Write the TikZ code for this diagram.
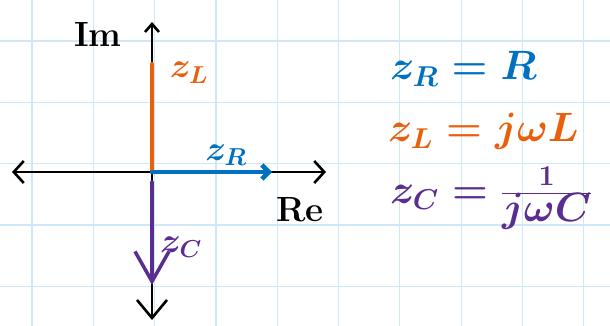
\documentclass[tikz,border=0pt]{standalone}
\usepackage{fix-cm}
\usetikzlibrary{arrows.meta}
\definecolor{gridc}{HTML}{CFE8F7}
\definecolor{zblue}{HTML}{0070C0}
\definecolor{zorange}{HTML}{E8600C}
\definecolor{zpurple}{HTML}{5A2D91}
\begin{document}
\begin{tikzpicture}[x=1pt,y=-1pt,
  gridline/.style={gridc, line width=1.2pt},
  axis/.style={black, line width=2.6pt, line cap=round},
  vec/.style={line width=4.5pt, line cap=round},
  lbl/.style={inner sep=0pt, anchor=base, font=\fontsize{35}{38}\selectfont\bfseries\boldmath},
  eq/.style={inner sep=0pt, anchor=base west, font=\fontsize{41}{45}\selectfont\boldmath}]
\useasboundingbox (0,0) rectangle (610,326);
\fill[white] (0,0) rectangle (610,326);
\foreach \i in {0,...,9} \draw[gridline] ({32+61.3*\i},0) -- ({32+61.3*\i},326);
\foreach \j in {0,...,4} \draw[gridline] (0,{41+61.3*\j}) -- (610,{41+61.3*\j});
% axes
\coordinate (O) at (152,172);
\coordinate (W) at (12,172);
\coordinate (E) at (326,172);
\coordinate (N) at (152,22);
\coordinate (S) at (152,320);
\coordinate (ZLtop) at (152,64);
\coordinate (ZRtip) at (272,172);
\coordinate (ZCtop) at (152,182);
\coordinate (ZCtip) at (152,285);
\draw[axis, {Straight Barb[length=10pt 0, width=22pt 0]}-{Straight Barb[length=10pt 0, width=22pt 0]}] (W) -- (E);
\draw[axis, {Straight Barb[length=8pt 0, width=14pt 0]}-{Straight Barb[length=18pt 0, width=30pt 0]}] (N) -- (S);
% vectors
\draw[vec, zorange] (O) -- (ZLtop);
\draw[vec, zblue, -{Straight Barb[length=7pt 0, width=14pt 0]}] (O) -- (ZRtip);
\draw[vec, zpurple, line width=3.5pt, -{Straight Barb[length=30pt 0, width=34pt 0]}] (ZCtop) -- (ZCtip);
% axis labels
\node[lbl] (im) at (98,47) {Im};
\node[lbl] (re) at (300,221) {Re};
% vector labels
\node[lbl, zorange] (zl) at (189,78) {$z_L$};
\node[lbl, zblue] (zr) at (226,160) {$z_R$};
\node[lbl, zpurple] (zc) at (181,252) {$z_C$};
% equations
\node[eq, zblue] (eqr) at (390,80) {$z_R = R$};
\node[eq, zorange] (eql) at (388,142) {$z_L = j\omega L$};
\node[eq, zpurple] (eqc) at (390,203) {$z_C = \frac{1}{\textstyle j\omega C}$};
\end{tikzpicture}
\end{document}
